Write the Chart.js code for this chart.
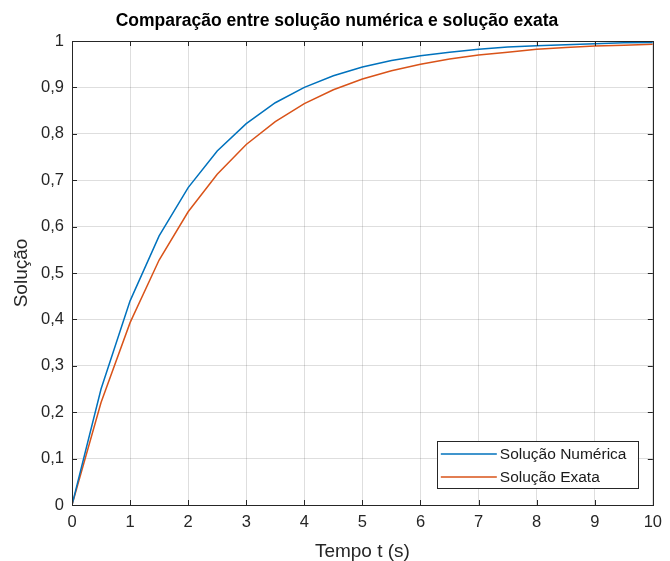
<!DOCTYPE html>
<html>
<head>
<meta charset="utf-8">
<script src="https://cdn.jsdelivr.net/npm/chart.js@4"></script>
<style>
  html, body { margin: 0; padding: 0; background: #fff; }
  #wrap { width: 670px; height: 561px; }
</style>
</head>
<body>
<div id="wrap"><canvas id="solChart" width="670" height="561"></canvas></div>
<script>
// tempo t (s), passo 0.5
const tempo = [0, 0.5, 1, 1.5, 2, 2.5, 3, 3.5, 4, 4.5, 5, 5.5, 6, 6.5, 7, 7.5, 8, 8.5, 9, 9.5, 10];
const numerica = [0, 0.25, 0.44, 0.58, 0.684, 0.763, 0.822, 0.867, 0.90, 0.925, 0.944, 0.958, 0.968, 0.976, 0.982, 0.987, 0.990, 0.992, 0.994, 0.996, 0.997];
const exata = [0, 0.221, 0.393, 0.528, 0.632, 0.713, 0.777, 0.826, 0.865, 0.895, 0.918, 0.936, 0.950, 0.961, 0.970, 0.976, 0.982, 0.986, 0.989, 0.991, 0.993];
const xTicks = [0, 1, 2, 3, 4, 5, 6, 7, 8, 9, 10];
const yTicks = [0, 0.1, 0.2, 0.3, 0.4, 0.5, 0.6, 0.7, 0.8, 0.9, 1];

const FONT = "'Liberation Sans', Arial, Helvetica, sans-serif";
const AXIS_COLOR = '#262626';

function toPoints(xs, ys) {
  return xs.map((x, i) => ({x: x, y: ys[i]}));
}

// moldura da caixa dos eixos com marcas internas (estilo MATLAB)
const boxPlugin = {
  id: 'boxFrame',
  afterDatasetsDraw(chart) {
    const {ctx, chartArea: a, scales} = chart;
    ctx.save();
    ctx.strokeStyle = AXIS_COLOR;
    ctx.lineWidth = 1;
    const tl = 5;
    ctx.beginPath();
    xTicks.forEach(v => {
      const px = Math.round(scales.x.getPixelForValue(v)) + 0.5;
      ctx.moveTo(px, a.bottom); ctx.lineTo(px, a.bottom - tl);
      ctx.moveTo(px, a.top); ctx.lineTo(px, a.top + tl);
    });
    yTicks.forEach(v => {
      const py = Math.round(scales.y.getPixelForValue(v)) + 0.5;
      ctx.moveTo(a.left, py); ctx.lineTo(a.left + tl, py);
      ctx.moveTo(a.right, py); ctx.lineTo(a.right - tl, py);
    });
    ctx.stroke();
    ctx.strokeRect(Math.round(a.left) + 0.5, Math.round(a.top) + 0.5,
      Math.round(a.right - a.left), Math.round(a.bottom - a.top));
    ctx.restore();
  }
};

// legenda dentro da area do grafico, canto inferior direito
const legendPlugin = {
  id: 'boxLegend',
  afterDraw(chart) {
    const {ctx, chartArea: a} = chart;
    const w = 201, h = 47;
    const x0 = a.right - 15 - w, y0 = a.bottom - 17 - h;
    ctx.save();
    ctx.fillStyle = '#fff';
    ctx.fillRect(x0, y0, w, h);
    ctx.strokeStyle = AXIS_COLOR;
    ctx.lineWidth = 1;
    ctx.strokeRect(Math.round(x0) + 0.5, Math.round(y0) + 0.5, w, h);
    ctx.font = '15.5px ' + FONT;
    ctx.textBaseline = 'middle';
    chart.data.datasets.forEach((ds, i) => {
      const yy = y0 + 13 + i * 23;
      ctx.strokeStyle = ds.borderColor;
      ctx.lineWidth = 1.5;
      ctx.beginPath();
      ctx.moveTo(x0 + 4, yy); ctx.lineTo(x0 + 60, yy);
      ctx.stroke();
      ctx.fillStyle = '#1a1a1a';
      ctx.fillText(ds.label, x0 + 63, yy + 1);
    });
    ctx.restore();
  }
};

new Chart(document.getElementById('solChart').getContext('2d'), {
  type: 'line',
  data: {
    datasets: [
      {
        label: 'Solução Numérica',
        data: toPoints(tempo, numerica),
        borderColor: '#0072BD',
        borderWidth: 1.5,
        pointRadius: 0,
        tension: 0,
        fill: false
      },
      {
        label: 'Solução Exata',
        data: toPoints(tempo, exata),
        borderColor: '#D95319',
        borderWidth: 1.5,
        pointRadius: 0,
        tension: 0,
        fill: false
      }
    ]
  },
  options: {
    responsive: false,
    animation: false,
    layout: { padding: { left: 17, right: 13, top: 0, bottom: 0 } },
    plugins: {
      legend: { display: false },
      tooltip: { enabled: false },
      title: {
        display: true,
        text: 'Comparação entre solução numérica e solução exata',
        color: '#000',
        font: { family: FONT, size: 17.5, weight: 'bold' },
        padding: { top: 11, bottom: 9 }
      }
    },
    scales: {
      x: {
        type: 'linear',
        min: 0,
        max: 10,
        afterBuildTicks(scale) { scale.ticks = xTicks.map(v => ({value: v})); },
        afterFit(scale) { scale.height = 56; },
        ticks: {
          color: AXIS_COLOR,
          font: { family: FONT, size: 16.5 },
          padding: 8,
          maxRotation: 0,
          callback: v => String(v)
        },
        grid: { color: 'rgba(0,0,0,0.13)', drawTicks: false },
        border: { display: false },
        title: {
          display: true,
          text: 'Tempo t (s)',
          color: AXIS_COLOR,
          font: { family: FONT, size: 19 },
          padding: { top: 0, bottom: -2 }
        }
      },
      y: {
        type: 'linear',
        min: 0,
        max: 1,
        afterBuildTicks(scale) { scale.ticks = yTicks.map(v => ({value: v})); },
        afterFit(scale) { scale.width = 55; },
        ticks: {
          color: AXIS_COLOR,
          font: { family: FONT, size: 16.5 },
          padding: 8,
          callback: v => String(Math.round(v * 10) / 10).replace('.', ',')
        },
        grid: { color: 'rgba(0,0,0,0.13)', drawTicks: false },
        border: { display: false },
        title: {
          display: true,
          text: 'Solução',
          color: AXIS_COLOR,
          font: { family: FONT, size: 19 },
          padding: { top: -7, bottom: 0 }
        }
      }
    }
  },
  plugins: [boxPlugin, legendPlugin]
});
</script>
</body>
</html>
